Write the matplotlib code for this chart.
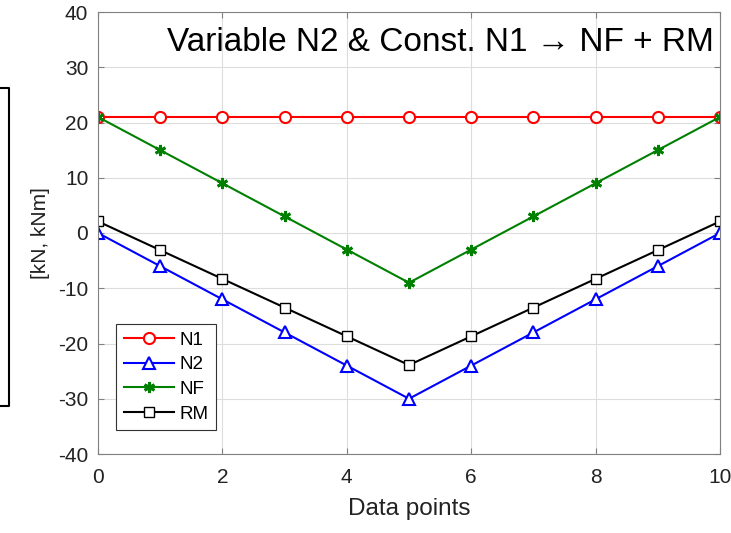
import numpy as np
import matplotlib
matplotlib.use('Agg')
import matplotlib.pyplot as plt
from matplotlib.lines import Line2D

plt.rcParams['font.family'] = ['Liberation Sans', 'DejaVu Sans']
plt.rcParams['axes.unicode_minus'] = False

# data
x = list(range(11))
n1 = [21, 21, 21, 21, 21, 21, 21, 21, 21, 21, 21]
n2 = [0, -6, -12, -18, -24, -30, -24, -18, -12, -6, 0]
nf = [21, 15, 9, 3, -3, -9, -3, 3, 9, 15, 21]
rm = [2.1, -3.1, -8.3, -13.5, -18.7, -23.9, -18.7, -13.5, -8.3, -3.1, 2.1]

fig = plt.figure(figsize=(7.31, 5.33), dpi=100)
ax = fig.add_axes([98/731, 79/533, 622/731, 442/533])

ax.plot(x, n1, color='red', lw=1.5, marker='o', ms=8, mfc='white', mec='red', mew=1.5, label='N1')
ax.plot(x, n2, color='blue', lw=1.5, marker='^', ms=9, mfc='white', mec='blue', mew=1.5, label='N2')
ax.plot(x, nf, color='#008000', lw=1.5, marker=(6, 2, 0), ms=8, mec='#008000', mew=2.0, label='NF')
ax.plot(x, rm, color='black', lw=1.5, marker='s', ms=7, mfc='white', mec='black', mew=1.0, label='RM')

ax.set_xlim(0, 10)
ax.set_ylim(-40, 40)
ax.set_xticks(np.arange(0, 11, 2))
ax.set_yticks(np.arange(-40, 41, 10))
ax.grid(True, color='#dddddd', lw=0.8)
ax.set_axisbelow(True)
for s in ax.spines.values():
    s.set_color('#808080')
ax.tick_params(direction='in', top=True, right=True, length=4, color='#808080',
               labelsize=15, labelcolor='#222222')
ax.tick_params(axis='x', pad=10)
ax.tick_params(axis='y', pad=7)

ax.set_xlabel('Data points', fontsize=17.5, color='#222222', labelpad=8)
ax.set_ylabel('[kN, kNm]', fontsize=15, color='#222222', labelpad=6)

ax.text(0.99, 0.93, 'Variable N2 & Const. N1 \u2192 NF + RM', transform=ax.transAxes,
        ha='right', va='center', fontsize=24, color='black')

leg = ax.legend(loc='lower left', bbox_to_anchor=(0.029, 0.054), borderaxespad=0, fontsize=13.5,
                fancybox=False, framealpha=1, edgecolor='#333333',
                handlelength=2.7, handletextpad=0.3, labelspacing=0.4, borderpad=0.4)
leg.get_frame().set_linewidth(0.8)

# partial box on the left edge
fig.add_artist(Line2D([0, 9/731, 9/731, 0], [1 - 88/533, 1 - 88/533, 1 - 406/533, 1 - 406/533],
                      transform=fig.transFigure, color='black', lw=1.5))

fig.savefig('out.png', dpi=100)
